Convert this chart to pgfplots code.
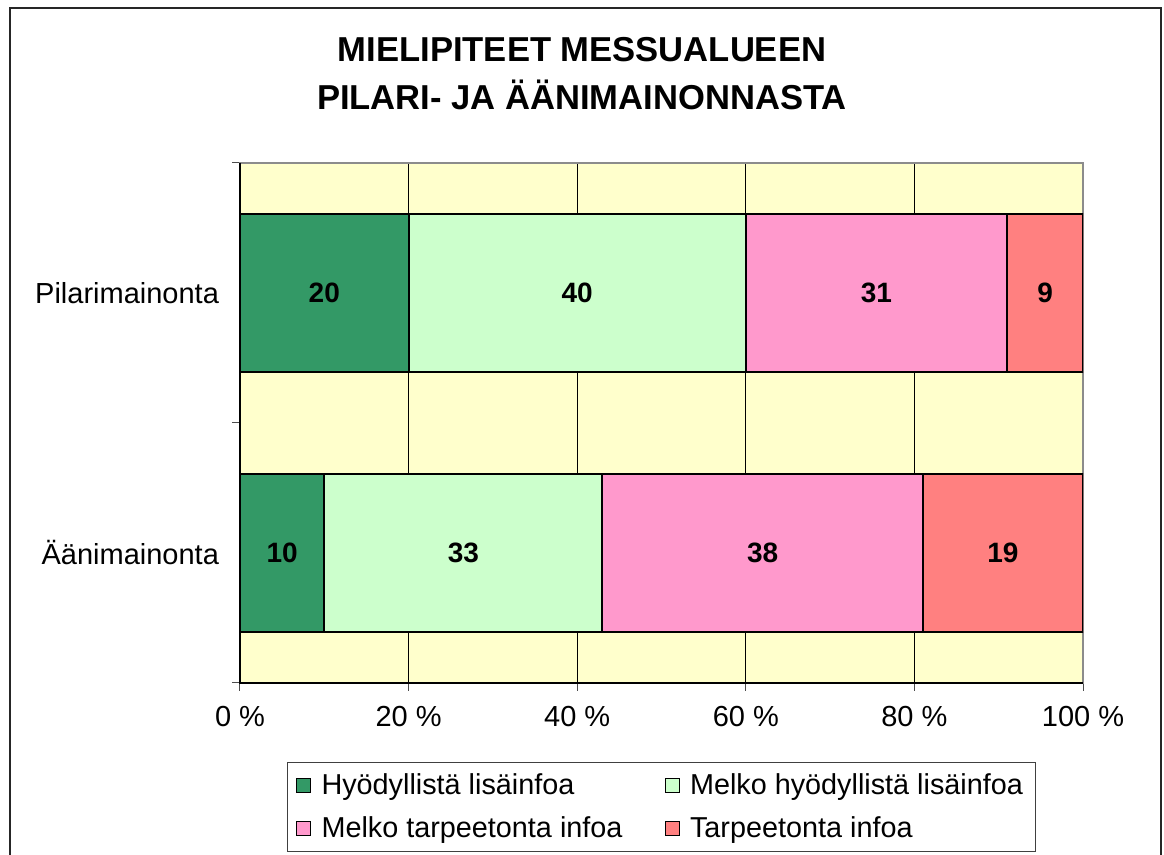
\documentclass[border=0pt]{standalone}
\usepackage{fontspec}
\setmainfont{Liberation Sans}
\usepackage{pgfplots}
\pgfplotsset{compat=1.18}
\definecolor{cA}{HTML}{339966}
\definecolor{cB}{HTML}{CCFFCC}
\definecolor{cC}{HTML}{FF99CC}
\definecolor{cD}{HTML}{FF8080}
\definecolor{bgY}{HTML}{FFFFCC}
\begin{document}
\begin{tikzpicture}
\useasboundingbox (0pt,0pt) rectangle (582pt,427.5pt);
\draw[line width=1pt, black!85] (5pt,-3pt) -- (5pt,423.5pt) -- (580.5pt,423.5pt) -- (580.5pt,-3pt);
\node[font=\bfseries\fontsize{17.3}{24}\selectfont, align=center] at (291pt,390.5pt) {MIELIPITEET MESSUALUEEN\\PILARI- JA ÄÄNIMAINONNASTA};
\begin{axis}[
  at={(120pt,86pt)}, anchor=south west,
  width=421.5pt, height=260pt, scale only axis,
  xbar stacked, bar width=79pt,
  xmin=0, xmax=100, ymin=0.5, ymax=2.5,
  axis background/.style={fill=bgY},
  axis line style={black!45, line width=0.6pt},
  xtick={0,20,40,60,80,100},
  xticklabels={0 \%,20 \%,40 \%,60 \%,80 \%,100 \%},
  xmajorgrids, grid style={black, line width=0.5pt},
  ytick={0.5,1.5,2.5}, yticklabels={},
  extra y ticks={1,2}, extra y tick labels={Äänimainonta,Pilarimainonta},
  extra y tick style={major tick length=0pt, grid=none, yticklabel style={xshift=-7pt}},
  tick align=outside, xtick pos=bottom, ytick pos=left,
  major tick length=4pt,
  tick style={black!70, line width=0.5pt},
  ticklabel style={font=\fontsize{14.5}{17}\selectfont},
  xticklabel style={yshift=-4pt},
  legend columns=2,
  legend style={at={(0.5,-0.152)}, anchor=north, draw=black!75, line width=0.5pt,
    font=\fontsize{14.4}{17}\selectfont, inner xsep=4.5pt, inner ysep=3.5pt,
    row sep=5.5pt, cells={anchor=west},
    /tikz/every even column/.append style={column sep=19pt}},
  legend image code/.code={\draw[#1, line width=0.5pt] (-1.5pt,-3.5pt) rectangle (5.5pt,3.5pt); \path (8.5pt,0pt);},
  after end axis/.code={
    \draw[black, line width=0.8pt] (rel axis cs:0,1) -- (rel axis cs:0,0) -- (rel axis cs:1,0);
  },
]
\addplot[fill=cA, draw=black, line width=1pt] coordinates {(10,1) (20,2)};
\addplot[fill=cB, draw=black, line width=1pt] coordinates {(33,1) (40,2)};
\addplot[fill=cC, draw=black, line width=1pt] coordinates {(38,1) (31,2)};
\addplot[fill=cD, draw=black, line width=1pt] coordinates {(19,1) (9,2)};
\legend{Hyödyllistä lisäinfoa, Melko hyödyllistä lisäinfoa, Melko tarpeetonta infoa, Tarpeetonta infoa}
\end{axis}
\begin{axis}[
  at={(120pt,86pt)}, anchor=south west,
  width=421.5pt, height=260pt, scale only axis,
  xmin=0, xmax=100, ymin=0.5, ymax=2.5, hide axis,
]
\addplot[draw=none, mark=none, nodes near coords, point meta=explicit symbolic,
  every node near coord/.append style={anchor=center, font=\bfseries\fontsize{14}{16}\selectfont}]
  coordinates {(10,2)[20] (40,2)[40] (75.5,2)[31] (95.5,2)[9]};
\addplot[draw=none, mark=none, nodes near coords, point meta=explicit symbolic,
  every node near coord/.append style={anchor=center, font=\bfseries\fontsize{14}{16}\selectfont}]
  coordinates {(5,1)[10] (26.5,1)[33] (62,1)[38] (90.5,1)[19]};
\end{axis}
\end{tikzpicture}
\end{document}
